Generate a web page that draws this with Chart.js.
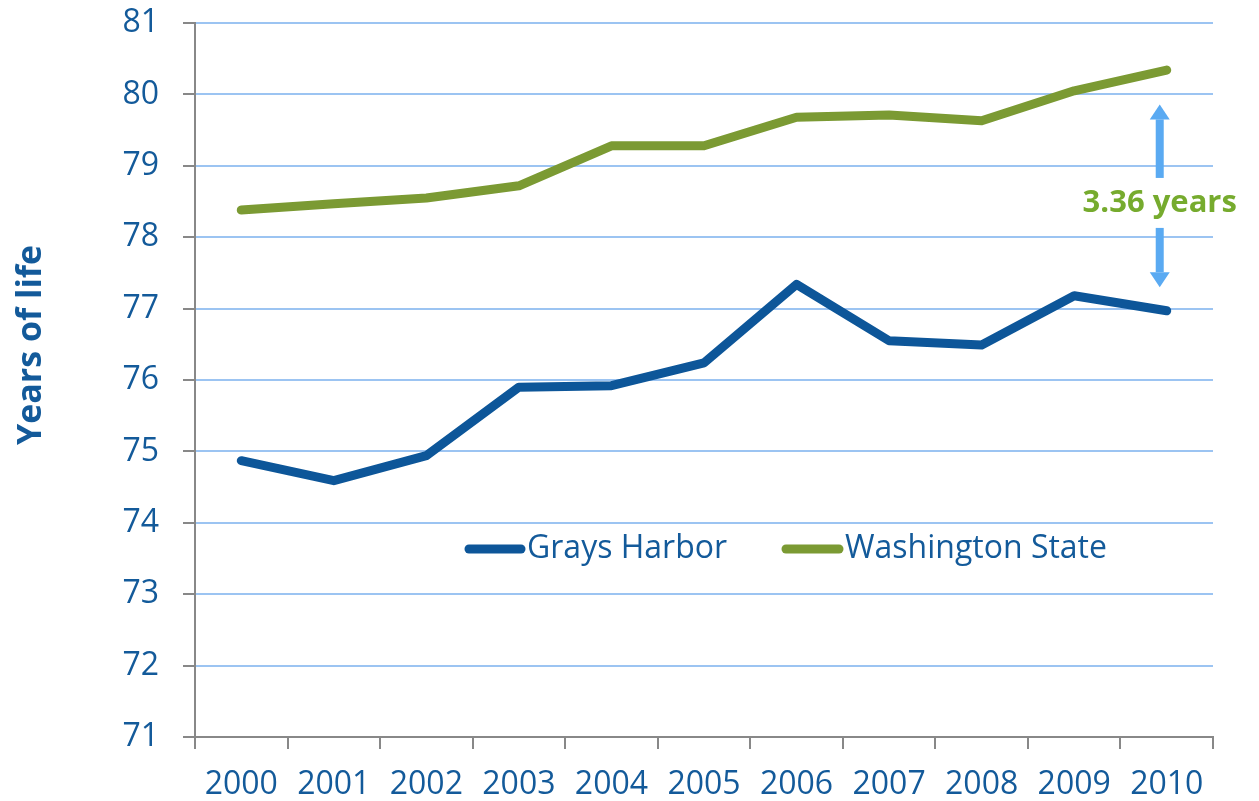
<!DOCTYPE html>
<html>
<head>
<meta charset="utf-8">
<script src="https://cdn.jsdelivr.net/npm/chart.js@4.4.1/dist/chart.umd.min.js"></script>
<style>
  html, body { margin: 0; padding: 0; background: #fff; }
  #wrap { width: 1259px; height: 801px; }
</style>
</head>
<body>
<div id="wrap"><canvas id="lifeChart" width="1259" height="801"></canvas></div>
<script>
const years = ["2000", "2001", "2002", "2003", "2004", "2005", "2006", "2007", "2008", "2009", "2010"];
const graysHarbor = [74.87, 74.59, 74.94, 75.90, 75.92, 76.24, 77.34, 76.55, 76.49, 77.18, 76.97];
const washington = [78.38, 78.47, 78.55, 78.72, 79.28, 79.28, 79.68, 79.71, 79.63, 80.05, 80.34];
const yTicks = [71, 72, 73, 74, 75, 76, 77, 78, 79, 80, 81];
const seriesNames = ["Grays Harbor", "Washington State"];
const seriesColors = ["#0D5699", "#7B9A33"];
const yTitle = "Years of life";
const gapLabel = "3.36 years";
// arrow ends, in years of life
const arrowUp = [78.83, 79.86];
const arrowDown = [78.13, 77.30];

const blueText = "#135A9A";

// axis title, legend and the gap annotation
const extras = {
    id: "extras",
    afterDatasetsDraw(chart) {
        const ctx = chart.ctx;
        const x = chart.scales.x;
        const y = chart.scales.y;

        ctx.save();
        // y title (sits a bit above the middle, like the original)
        ctx.translate(31, 345);
        ctx.rotate(-Math.PI / 2);
        ctx.font = "bold 34px 'Open Sans'";
        ctx.fillStyle = blueText;
        ctx.textAlign = "center";
        ctx.textBaseline = "middle";
        ctx.fillText(yTitle, 0, 0);
        ctx.restore();

        // legend
        const items = [{ x: 465, textX: 527 }, { x: 782, textX: 845 }];
        ctx.save();
        ctx.font = "32px 'Open Sans'";
        ctx.textBaseline = "middle";
        items.forEach((it, i) => {
            ctx.strokeStyle = seriesColors[i];
            ctx.lineWidth = 9;
            ctx.lineCap = "round";
            ctx.beginPath();
            ctx.moveTo(it.x + 4, 549);
            ctx.lineTo(it.textX - 6, 549);
            ctx.stroke();
            ctx.fillStyle = blueText;
            ctx.fillText(seriesNames[i], it.textX, 549);
        });

        // arrows
        const ax = x.getPixelForValue(years.length - 1) - 7;
        ctx.fillStyle = "#5AAAF2";
        function arrow(fromV, toV) {
            const y0 = y.getPixelForValue(fromV);
            const y1 = y.getPixelForValue(toV);
            const dir = y1 < y0 ? -1 : 1;
            const headH = 15;
            ctx.fillRect(ax - 4, Math.min(y0, y1 - dir * headH), 8, Math.abs(y1 - dir * headH - y0));
            ctx.beginPath();
            ctx.moveTo(ax, y1);
            ctx.lineTo(ax - 10, y1 - dir * headH);
            ctx.lineTo(ax + 10, y1 - dir * headH);
            ctx.closePath();
            ctx.fill();
        }
        arrow(arrowUp[0], arrowUp[1]);
        arrow(arrowDown[0], arrowDown[1]);

        ctx.font = "bold 31px 'Open Sans'";
        ctx.fillStyle = "#76AB2E";
        ctx.textAlign = "center";
        ctx.fillText(gapLabel, ax, y.getPixelForValue((arrowUp[0] + arrowDown[0]) / 2));
        ctx.restore();
    }
};

function noPad(scale) {
    scale.paddingTop = 0;
    scale.paddingBottom = 0;
    scale.paddingLeft = 0;
    scale.paddingRight = 0;
}

const ctx = document.getElementById("lifeChart").getContext("2d");
new Chart(ctx, {
    type: "line",
    data: {
        labels: years,
        datasets: [{
            label: seriesNames[0],
            data: graysHarbor,
            borderColor: seriesColors[0],
            backgroundColor: seriesColors[0],
            borderWidth: 9,
            pointRadius: 0,
            tension: 0,
            borderCapStyle: "round",
            borderJoinStyle: "round"
        }, {
            label: seriesNames[1],
            data: washington,
            borderColor: seriesColors[1],
            backgroundColor: seriesColors[1],
            borderWidth: 9,
            pointRadius: 0,
            tension: 0,
            borderCapStyle: "round",
            borderJoinStyle: "round"
        }]
    },
    options: {
        responsive: false,
        animation: false,
        layout: { padding: { top: 23, right: 46, left: 0, bottom: 0 } },
        plugins: {
            legend: { display: false },
            tooltip: { enabled: false }
        },
        scales: {
            x: {
                offset: true,
                grid: {
                    offset: true,
                    drawOnChartArea: false,
                    color: "#888",
                    lineWidth: 2,
                    tickLength: 12
                },
                border: { color: "#888", width: 2 },
                ticks: {
                    color: blueText,
                    font: { family: "'Open Sans'", size: 32 },
                    padding: 17,
                    maxRotation: 0
                },
                afterFit(scale) { scale.height = 64; noPad(scale); }
            },
            y: {
                min: 71,
                max: 81,
                afterBuildTicks(scale) { scale.ticks = yTicks.map(v => ({ value: v })); },
                grid: {
                    color: "#9CC4F2",
                    lineWidth: 2,
                    tickColor: "#888",
                    tickLength: 12
                },
                border: { color: "#888", width: 2 },
                ticks: {
                    color: blueText,
                    font: { family: "'Open Sans'", size: 32 },
                    padding: 24
                },
                afterFit(scale) { scale.width = 195; noPad(scale); }
            }
        }
    },
    plugins: [extras]
});
</script>
</body>
</html>
